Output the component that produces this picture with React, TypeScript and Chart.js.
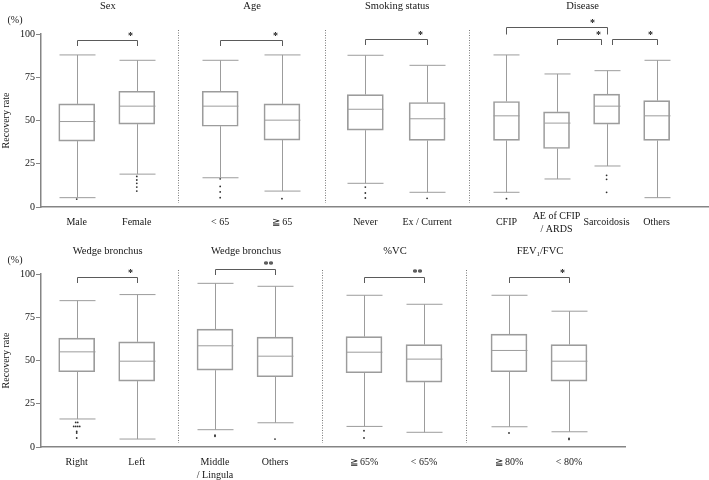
import React, { useEffect, useRef } from 'react';
import { Chart, registerables } from 'chart.js';

Chart.register(...registerables);

// ---------------- DATA ----------------
// Top row
const TOP_TITLES = ['Sex', 'Age', 'Smoking status', 'Disease'];
const TOP_PANEL_SIZES = [2, 2, 2, 4];
const TOP_LABELS: (string | string[])[] = [
  'Male', 'Female', '< 65', '≧ 65', 'Never', 'Ex / Current',
  'CFIP', ['AE of CFIP', '/ ARDS'], 'Sarcoidosis', 'Others',
];
const TOP_MAX = [87.9, 84.8, 84.8, 87.9, 87.7, 81.9, 87.9, 76.9, 78.8, 84.8];
const TOP_Q3 = [59.6, 66.9, 66.9, 59.6, 65.0, 60.4, 61.0, 55.0, 65.2, 61.5];
const TOP_MEDIAN = [49.4, 58.3, 58.3, 50.2, 56.5, 51.0, 52.7, 48.5, 58.3, 52.7];
const TOP_Q1 = [38.1, 47.9, 46.7, 38.7, 44.4, 38.5, 38.5, 33.8, 47.9, 38.5];
const TOP_MIN = [5.4, 19.0, 16.9, 9.2, 13.7, 8.5, 8.5, 16.2, 23.7, 5.4];
const TOP_OUTLIERS = [
  [4.6], [17.7, 15.6, 13.7, 11.5, 9.2], [16.3, 11.9, 8.7, 5.4], [4.8],
  [11.5, 8.1, 5.2], [5.0], [4.8], [], [18.3, 16.0, 8.5], [],
];
const TOP_BRACKETS = [
  { a: 0, b: 1, v: 96.5, s: '*' },
  { a: 2, b: 3, v: 96.5, s: '*' },
  { a: 4, b: 5, v: 96.9, s: '*' },
  { a: 6, b: 8, v: 104.2, s: '*' },
  { a: 7, b: 8, v: 96.9, s: '*' },
  { a: 8, b: 9, v: 96.9, s: '*' },
];

// Bottom row
const BOT_TITLES = ['Wedge bronchus', 'Wedge bronchus', '%VC', 'FEV₁/FVC'];
const BOT_PANEL_SIZES = [2, 2, 2, 2];
const BOT_LABELS: (string | string[])[] = [
  'Right', 'Left', ['Middle', '/ Lingula'], 'Others', '≧ 65%', '< 65%', '≧ 80%', '< 80%',
];
const BOT_MAX = [84.6, 88.1, 94.6, 92.9, 87.7, 82.5, 87.7, 78.5];
const BOT_Q3 = [62.9, 60.8, 68.1, 63.5, 63.8, 59.2, 65.2, 59.2];
const BOT_MEDIAN = [55.0, 49.6, 58.5, 52.5, 54.8, 50.8, 55.8, 49.6];
const BOT_Q1 = [43.5, 38.1, 44.4, 40.6, 42.9, 37.5, 43.5, 38.1];
const BOT_MIN = [16.2, 4.6, 10.0, 14.0, 11.9, 8.5, 11.7, 8.8];
const BOT_OUTLIERS = [
  [14.2, 14.2, 11.9, 11.9, 11.9, 11.9, 9.0, 8.1, 5.2], [], [6.8, 6.2], [4.6],
  [9.4, 5.2], [], [8.1], [5.0, 4.4],
];
const BOT_BRACKETS = [
  { a: 0, b: 1, v: 98.1, s: '*' },
  { a: 2, b: 3, v: 102.7, s: '**' },
  { a: 4, b: 5, v: 98.3, s: '**' },
  { a: 6, b: 7, v: 98.3, s: '*' },
];

const Y_TICKS = [0, 25, 50, 75, 100];

// ---------------- LAYOUT / STYLE ----------------
type PanelLayout = { lead: number; step: number; tail: number; box: number };
const TOP_LAYOUT: PanelLayout[] = [
  { lead: 35.7, step: 60, tail: 41.6, box: 36 },
  { lead: 41.7, step: 61.7, tail: 42.6, box: 36 },
  { lead: 40.7, step: 61.7, tail: 42.3, box: 36 },
  { lead: 37, step: 50, tail: 51.3, box: 26 },
];
const BOT_LAYOUT: PanelLayout[] = [
  { lead: 35.7, step: 60, tail: 41.6, box: 36 },
  { lead: 36.7, step: 60, tail: 46.7, box: 36 },
  { lead: 42.3, step: 60, tail: 42.3, box: 36 },
  { lead: 42.7, step: 60, tail: 56, box: 36 },
];

const FONT = '"Liberation Serif", "Times New Roman", Times, serif';
const TEXT = '#161616';
const BOX = '#9c9c9c';
const AXIS = '#858585';
const BRACKET = '#5a5a5a';
const SEP = '#7a7a7a';
const DOT = '#303030';

type Bracket = { a: number; b: number; v: number; s: string };
type RowSpec = {
  titles: string[];
  sizes: number[];
  labels: (string | string[])[];
  max: number[]; q3: number[]; med: number[]; q1: number[]; min: number[];
  out: number[][];
  brackets: Bracket[];
  layout: PanelLayout[];
  crossAlign: 'center' | 'near';
  rightPad: number;
  titleY: number;
};

const TOP: RowSpec = {
  titles: TOP_TITLES, sizes: TOP_PANEL_SIZES, labels: TOP_LABELS,
  max: TOP_MAX, q3: TOP_Q3, med: TOP_MEDIAN, q1: TOP_Q1, min: TOP_MIN, out: TOP_OUTLIERS,
  brackets: TOP_BRACKETS, layout: TOP_LAYOUT, crossAlign: 'center', rightPad: 1, titleY: 6.5,
};
const BOTTOM: RowSpec = {
  titles: BOT_TITLES, sizes: BOT_PANEL_SIZES, labels: BOT_LABELS,
  max: BOT_MAX, q3: BOT_Q3, med: BOT_MEDIAN, q1: BOT_Q1, min: BOT_MIN, out: BOT_OUTLIERS,
  brackets: BOT_BRACKETS, layout: BOT_LAYOUT, crossAlign: 'near', rightPad: 84, titleY: 11,
};

function computePositions(spec: RowSpec) {
  const centers: number[] = [];
  const panelOf: number[] = [];
  const bounds: [number, number][] = [];
  let x = 0;
  spec.layout.forEach((p, pi) => {
    const start = x;
    for (let k = 0; k < spec.sizes[pi]; k++) {
      centers.push(start + p.lead + k * p.step);
      panelOf.push(pi);
    }
    x = start + p.lead + (spec.sizes[pi] - 1) * p.step + p.tail;
    bounds.push([start, x]);
  });
  return { centers, panelOf, bounds, total: x };
}

function drawTitle(ctx: CanvasRenderingContext2D, text: string, cx: number, cy: number) {
  const size = 10.5;
  ctx.save();
  ctx.fillStyle = TEXT;
  ctx.textBaseline = 'middle';
  ctx.textAlign = 'left';
  if (text.includes('₁')) {
    const [pre, post] = text.split('₁');
    ctx.font = `${size}px ${FONT}`;
    const w1 = ctx.measureText(pre).width;
    const w3 = ctx.measureText(post).width;
    ctx.font = `${size * 0.65}px ${FONT}`;
    const w2 = ctx.measureText('1').width;
    let x = cx - (w1 + w2 + w3) / 2;
    ctx.font = `${size}px ${FONT}`;
    ctx.fillText(pre, x, cy);
    x += w1;
    ctx.font = `${size * 0.65}px ${FONT}`;
    ctx.fillText('1', x, cy + 3);
    x += w2;
    ctx.font = `${size}px ${FONT}`;
    ctx.fillText(post, x, cy);
  } else {
    ctx.font = `${size}px ${FONT}`;
    ctx.textAlign = 'center';
    ctx.fillText(text, cx, cy);
  }
  ctx.restore();
}

function buildConfig(spec: RowSpec): any {
  const { centers, panelOf, bounds, total } = computePositions(spec);

  const datasets: any[] = spec.layout.map((p, pi) => ({
    type: 'bar',
    data: centers
      .map((c, i) => ({ i, c }))
      .filter(({ i }) => panelOf[i] === pi)
      .map(({ i, c }) => ({ x: c, y: [spec.q1[i], spec.q3[i]] })),
    barThickness: p.box,
    grouped: false,
    backgroundColor: 'rgba(255,255,255,0)',
    borderColor: BOX,
    borderWidth: 1,
    borderSkipped: false,
  }));

  const outPts: { x: number; y: number }[] = [];
  spec.out.forEach((vals, i) => {
    const counts: Record<string, number> = {};
    vals.forEach((v) => (counts[v] = (counts[v] || 0) + 1));
    const seen: Record<string, number> = {};
    vals.forEach((v) => {
      const n = counts[v];
      const k = (seen[v] = (seen[v] || 0) + 1) - 1;
      outPts.push({ x: centers[i] + (k - (n - 1) / 2) * 2, y: v });
    });
  });
  datasets.push({
    type: 'scatter',
    data: outPts,
    pointRadius: 0.9,
    pointBackgroundColor: DOT,
    pointBorderWidth: 0,
    pointHoverRadius: 0,
  });

  const boxPlugin = {
    id: 'boxPlugin',
    afterDatasetsDraw(chart: any) {
      const ctx: CanvasRenderingContext2D = chart.ctx;
      const xs = chart.scales.x;
      const ys = chart.scales.y;
      ctx.save();
      ctx.strokeStyle = BOX;
      ctx.lineWidth = 1;
      centers.forEach((c, i) => {
        const half = spec.layout[panelOf[i]].box / 2;
        const px = Math.round(xs.getPixelForValue(c)) + 0.5;
        const yMax = ys.getPixelForValue(spec.max[i]);
        const yQ3 = ys.getPixelForValue(spec.q3[i]);
        const yMed = ys.getPixelForValue(spec.med[i]);
        const yQ1 = ys.getPixelForValue(spec.q1[i]);
        const yMin = ys.getPixelForValue(spec.min[i]);
        ctx.beginPath();
        ctx.moveTo(px, yQ3); ctx.lineTo(px, yMax);
        ctx.moveTo(px - half, yMax); ctx.lineTo(px + half, yMax);
        ctx.moveTo(px, yQ1); ctx.lineTo(px, yMin);
        ctx.moveTo(px - half, yMin); ctx.lineTo(px + half, yMin);
        ctx.moveTo(px - half, yMed); ctx.lineTo(px + half, yMed);
        ctx.stroke();
      });
      ctx.restore();
    },
    afterDraw(chart: any) {
      const ctx: CanvasRenderingContext2D = chart.ctx;
      const xs = chart.scales.x;
      const ys = chart.scales.y;
      const area = chart.chartArea;
      ctx.save();
      // separators
      ctx.strokeStyle = SEP;
      ctx.lineWidth = 1;
      ctx.setLineDash([1, 1.5]);
      bounds.slice(0, -1).forEach(([, end]) => {
        const px = Math.round(xs.getPixelForValue(end)) + 0.5;
        ctx.beginPath();
        ctx.moveTo(px, area.top - 4);
        ctx.lineTo(px, area.bottom - 4);
        ctx.stroke();
      });
      ctx.setLineDash([]);
      // titles
      spec.titles.forEach((t, pi) => {
        const idx = centers.map((_, i) => i).filter((i) => panelOf[i] === pi);
        const a = xs.getPixelForValue(centers[idx[0]]);
        const b = xs.getPixelForValue(centers[idx[idx.length - 1]]);
        drawTitle(ctx, t, (a + b) / 2 + 1, spec.titleY);
      });
      // (%)
      ctx.fillStyle = TEXT;
      ctx.font = `10px ${FONT}`;
      ctx.textAlign = 'center';
      ctx.textBaseline = 'middle';
      ctx.fillText('(%)', 15, area.top - 13.5);
      // brackets
      ctx.strokeStyle = BRACKET;
      ctx.lineWidth = 1;
      spec.brackets.forEach((br, bi) => {
        const shared = (idx: number) =>
          spec.brackets.some(
            (o, oi) => oi !== bi && Math.abs(o.v - br.v) < 1 && (o.a === idx || o.b === idx)
          );
        const insetA = shared(br.a) ? 5.5 : 0;
        const insetB = shared(br.b) ? 5.5 : 0;
        const isTall = spec.brackets.some(
          (o, oi) => oi !== bi && o.a >= br.a && o.b <= br.b && o.v < br.v - 3
        );
        const leg = isTall ? 7 : 5.5;
        const y = Math.round(ys.getPixelForValue(br.v)) + 0.5;
        const x1 = Math.round(xs.getPixelForValue(centers[br.a]) + insetA) + 0.5;
        const x2 = Math.round(xs.getPixelForValue(centers[br.b]) - insetB) + 0.5;
        ctx.beginPath();
        ctx.moveTo(x1, y + leg);
        ctx.lineTo(x1, y);
        ctx.lineTo(x2, y);
        ctx.lineTo(x2, y + leg);
        ctx.stroke();
        ctx.fillStyle = TEXT;
        ctx.font = `bold 10px ${FONT}`;
        ctx.textAlign = 'center';
        ctx.textBaseline = 'alphabetic';
        const dx = isTall ? -15 : insetB ? -3 : -7;
        ctx.fillText(br.s, x2 + dx, y - 1.5);
      });
      ctx.restore();
    },
  };

  return {
    type: 'bar',
    data: { datasets },
    options: {
      animation: false,
      responsive: false,
      devicePixelRatio: 1,
      indexAxis: 'x',
      layout: { padding: { top: 34, left: 0, right: spec.rightPad, bottom: 0 } },
      plugins: { legend: { display: false }, tooltip: { enabled: false } },
      events: [],
      scales: {
        x: {
          type: 'linear',
          offset: false,
          min: 0,
          max: total,
          afterFit: (s: any) => { s.height = 33; },
          afterBuildTicks: (s: any) => { s.ticks = centers.map((v) => ({ value: v })); },
          ticks: {
            autoSkip: false,
            maxRotation: 0,
            minRotation: 0,
            padding: 9.5,
            crossAlign: spec.crossAlign,
            font: { family: FONT, size: 10, lineHeight: 1.25 },
            color: TEXT,
            callback: (_v: any, i: number) => spec.labels[i],
          },
          grid: { display: false, drawTicks: false, offset: false },
          border: { display: true, color: AXIS, width: 1.5 },
        },
        y: {
          type: 'linear',
          min: 0,
          max: 100,
          afterFit: (s: any) => { s.width = 41; },
          afterBuildTicks: (s: any) => { s.ticks = Y_TICKS.map((v) => ({ value: v })); },
          ticks: {
            font: { family: FONT, size: 10 },
            color: TEXT,
            padding: 1,
          },
          grid: { drawOnChartArea: false, drawTicks: true, tickLength: 5, color: AXIS, lineWidth: 1 },
          border: { display: true, color: AXIS, width: 1.5 },
          title: {
            display: true,
            text: 'Recovery rate',
            font: { family: FONT, size: 10 },
            color: TEXT,
            padding: { top: 0, bottom: 0 },
          },
        },
      },
    },
    plugins: [boxPlugin],
  };
}

function RowChart({ spec }: { spec: RowSpec }) {
  const ref = useRef<HTMLCanvasElement>(null);
  useEffect(() => {
    const chart = new Chart(ref.current as HTMLCanvasElement, buildConfig(spec));
    return () => chart.destroy();
  }, [spec]);
  return (
    <canvas
      ref={ref}
      width={709}
      height={240}
      style={{ display: 'block', width: 709, height: 240 }}
    />
  );
}

export default function App() {
  return (
    <div style={{ position: 'absolute', left: 0, top: 0, width: 709, height: 480, background: '#fff' }}>
      <RowChart spec={TOP} />
      <RowChart spec={BOTTOM} />
    </div>
  );
}
